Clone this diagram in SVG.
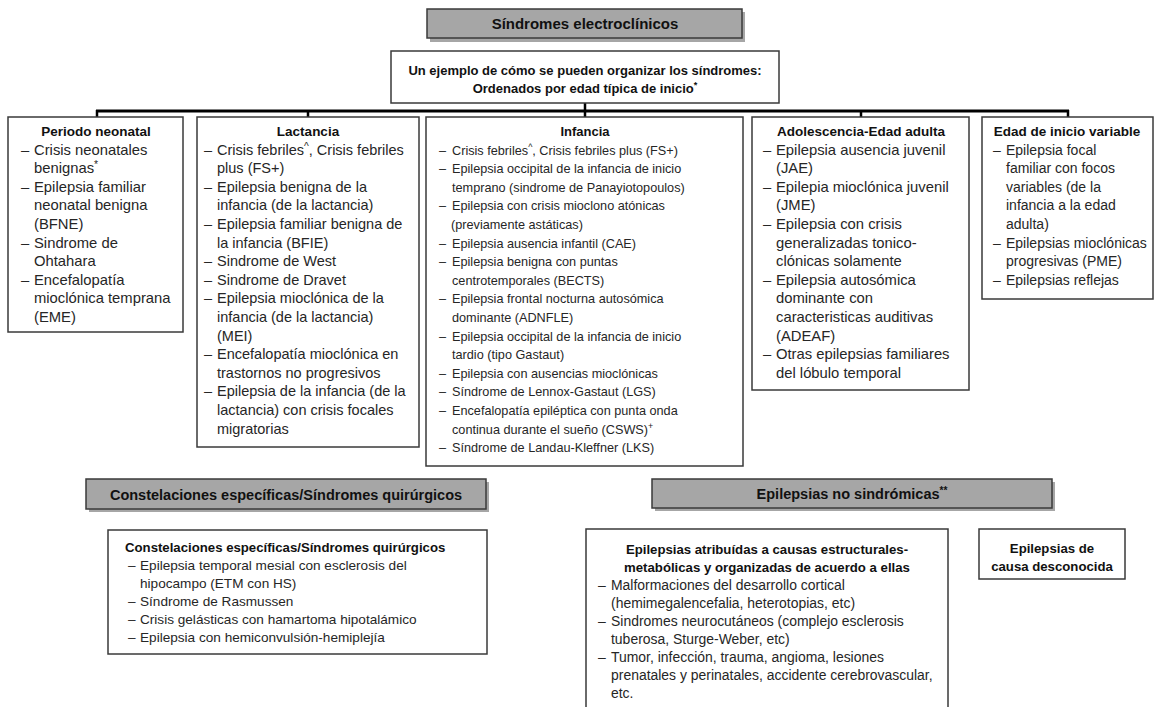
<svg xmlns="http://www.w3.org/2000/svg" width="1160" height="707" viewBox="0 0 1160 707">
<style>
.bg{fill:#ffffff}
.box{fill:#ffffff;stroke:#3a3a3a;stroke-width:1.5}
.gray{fill:#a6a6a6;stroke:#3a3a3a;stroke-width:1.5}
.shadow{fill:#6b6b6b;opacity:0.6}
.t{font-family:"Liberation Sans",Arial,sans-serif;fill:#262626}
.h{font-family:"Liberation Sans",Arial,sans-serif;font-weight:bold;fill:#111111}
.c{text-anchor:middle}
.conn{stroke:#000000;stroke-width:3;fill:none}
.tick{stroke:#000000;stroke-width:2.5;fill:none}
.sup{font-size:70%}
</style>
<rect class="bg" x="0" y="0" width="1160" height="707"/>

<g id="connectors">
<line class="conn" x1="96" y1="111" x2="1069" y2="111"/>
<line class="tick" x1="585" y1="103" x2="585" y2="111"/>
<line class="tick" x1="97" y1="110" x2="97" y2="117"/>
<line class="tick" x1="308" y1="110" x2="308" y2="117"/>
<line class="tick" x1="585" y1="110" x2="585" y2="117"/>
<line class="tick" x1="861" y1="110" x2="861" y2="117"/>
<line class="tick" x1="1068" y1="110" x2="1068" y2="117"/>
</g>

<g id="title">
<rect class="shadow" x="430" y="12" width="315" height="30"/>
<rect class="gray" x="427" y="9" width="315" height="29"/>
<text class="h c" x="585" y="29" font-size="15">Síndromes electroclínicos</text>
</g>

<g id="subtitle">
<rect class="box" x="391" y="51" width="388" height="52"/>
<text class="h c" x="585" y="75" font-size="13">Un ejemplo de cómo se pueden organizar los síndromes:</text>
<text class="h c" x="585" y="93" font-size="13">Ordenados por edad típica de inicio<tspan class="sup" dy="-5">*</tspan></text>
</g>

<g id="neonatal">
<rect class="box" x="8" y="117" width="175" height="215"/>
<text class="h c" x="96" y="136" font-size="13.5">Periodo neonatal</text>
<g class="t" font-size="14.8">
<text x="21" y="154.6">–</text><text x="34" y="154.6">Crisis neonatales</text>
<text x="34" y="173.2">benignas<tspan class="sup" dy="-5">*</tspan></text>
<text x="21" y="191.8">–</text><text x="34" y="191.8">Epilepsia familiar</text>
<text x="34" y="210.4">neonatal benigna</text>
<text x="34" y="229">(BFNE)</text>
<text x="21" y="247.6">–</text><text x="34" y="247.6">Sindrome de</text>
<text x="34" y="266.2">Ohtahara</text>
<text x="21" y="284.8">–</text><text x="34" y="284.8">Encefalopatía</text>
<text x="34" y="303.4">mioclónica temprana</text>
<text x="34" y="322">(EME)</text>
</g>
</g>

<g id="lactancia">
<rect class="box" x="197" y="117" width="222" height="330"/>
<text class="h c" x="308" y="136" font-size="13.5">Lactancia</text>
<g class="t" font-size="14.5">
<text x="204" y="154.6">–</text><text x="217" y="154.6">Crisis febriles<tspan class="sup" dy="-5">^</tspan><tspan dy="5">, Crisis febriles</tspan></text>
<text x="217" y="173.2">plus (FS+)</text>
<text x="204" y="191.8">–</text><text x="217" y="191.8">Epilepsia benigna de la</text>
<text x="217" y="210.4">infancia (de la lactancia)</text>
<text x="204" y="229">–</text><text x="217" y="229">Epilepsia familiar benigna de</text>
<text x="217" y="247.6">la infancia (BFIE)</text>
<text x="204" y="266.2">–</text><text x="217" y="266.2">Sindrome de West</text>
<text x="204" y="284.8">–</text><text x="217" y="284.8">Sindrome de Dravet</text>
<text x="204" y="303.4">–</text><text x="217" y="303.4">Epilepsia mioclónica de la</text>
<text x="217" y="322">infancia (de la lactancia)</text>
<text x="217" y="340.6">(MEI)</text>
<text x="204" y="359.2">–</text><text x="217" y="359.2">Encefalopatía mioclónica en</text>
<text x="217" y="377.8">trastornos no progresivos</text>
<text x="204" y="396.4">–</text><text x="217" y="396.4">Epilepsia de la infancia (de la</text>
<text x="217" y="415">lactancia) con crisis focales</text>
<text x="217" y="433.6">migratorias</text>
</g>
</g>

<g id="infancia">
<rect class="box" x="426" y="117" width="317" height="349"/>
<text class="h c" x="585" y="136" font-size="13">Infancia</text>
<g class="t" font-size="12.7">
<text x="439" y="154.6">–</text><text x="452" y="154.6">Crisis febriles<tspan class="sup" dy="-5">^</tspan><tspan dy="5">, Crisis febriles plus (FS+)</tspan></text>
<text x="439" y="173.2">–</text><text x="452" y="173.2">Epilepsia occipital de la infancia de inicio</text>
<text x="452" y="191.8">temprano (sindrome de Panayiotopoulos)</text>
<text x="439" y="210.4">–</text><text x="452" y="210.4">Epilepsia con crisis mioclono atónicas</text>
<text x="451" y="229">(previamente astáticas)</text>
<text x="439" y="247.6">–</text><text x="452" y="247.6">Epilepsia ausencia infantil (CAE)</text>
<text x="439" y="266.2">–</text><text x="452" y="266.2">Epilepsia benigna con puntas</text>
<text x="452" y="284.8">centrotemporales (BECTS)</text>
<text x="439" y="303.4">–</text><text x="452" y="303.4">Epilepsia frontal nocturna autosómica</text>
<text x="452" y="322">dominante (ADNFLE)</text>
<text x="439" y="340.6">–</text><text x="452" y="340.6">Epilepsia occipital de la infancia de inicio</text>
<text x="452" y="359.2">tardio (tipo Gastaut)</text>
<text x="439" y="377.8">–</text><text x="452" y="377.8">Epilepsia con ausencias mioclónicas</text>
<text x="439" y="396.4">–</text><text x="452" y="396.4">Síndrome de Lennox-Gastaut (LGS)</text>
<text x="439" y="415">–</text><text x="452" y="415">Encefalopatía epiléptica con punta onda</text>
<text x="452" y="433.6">continua durante el sueño (CSWS)<tspan class="sup" dy="-5">+</tspan></text>
<text x="439" y="452.2">–</text><text x="452" y="452.2">Síndrome de Landau-Kleffner (LKS)</text>
</g>
</g>

<g id="adolescencia">
<rect class="box" x="752" y="117" width="217" height="273"/>
<text class="h c" x="861" y="136" font-size="13.5">Adolescencia-Edad adulta</text>
<g class="t" font-size="14.8">
<text x="763" y="154.6">–</text><text x="776" y="154.6">Epilepsia ausencia juvenil</text>
<text x="776" y="173.2">(JAE)</text>
<text x="763" y="191.8">–</text><text x="776" y="191.8">Epilepia mioclónica juvenil</text>
<text x="776" y="210.4">(JME)</text>
<text x="763" y="229">–</text><text x="776" y="229">Epilepsia con crisis</text>
<text x="776" y="247.6">generalizadas tonico-</text>
<text x="776" y="266.2">clónicas solamente</text>
<text x="763" y="284.8">–</text><text x="776" y="284.8">Epilepsia autosómica</text>
<text x="776" y="303.4">dominante con</text>
<text x="776" y="322">caracteristicas auditivas</text>
<text x="776" y="340.6">(ADEAF)</text>
<text x="763" y="359.2">–</text><text x="776" y="359.2">Otras epilepsias familiares</text>
<text x="776" y="377.8">del lóbulo temporal</text>
</g>
</g>

<g id="variable">
<rect class="box" x="982" y="117" width="171" height="182"/>
<text class="h c" x="1067" y="136" font-size="13.5">Edad de inicio variable</text>
<g class="t" font-size="14">
<text x="993" y="154.6">–</text><text x="1006" y="154.6">Epilepsia focal</text>
<text x="1006" y="173.2">familiar con focos</text>
<text x="1006" y="191.8">variables (de la</text>
<text x="1006" y="210.4">infancia a la edad</text>
<text x="1006" y="229">adulta)</text>
<text x="993" y="247.6">–</text><text x="1006" y="247.6">Epilepsias mioclónicas</text>
<text x="1006" y="266.2">progresivas (PME)</text>
<text x="993" y="284.8">–</text><text x="1006" y="284.8">Epilepsias reflejas</text>
</g>
</g>

<g id="constelaciones-header">
<rect class="shadow" x="89" y="482" width="400" height="30"/>
<rect class="gray" x="86" y="479" width="400" height="30"/>
<text class="h c" x="286" y="499.5" font-size="14.5">Constelaciones específicas/Síndromes quirúrgicos</text>
</g>

<g id="constelaciones">
<rect class="box" x="108" y="530" width="379" height="124"/>
<text class="h" x="125" y="552" font-size="13.2">Constelaciones específicas/Síndromes quirúrgicos</text>
<g class="t" font-size="13.6">
<text x="128" y="570">–</text><text x="140" y="570">Epilepsia temporal mesial con esclerosis del</text>
<text x="140" y="588">hipocampo (ETM con HS)</text>
<text x="128" y="606">–</text><text x="140" y="606">Síndrome de Rasmussen</text>
<text x="128" y="624">–</text><text x="140" y="624">Crisis gelásticas con hamartoma hipotalámico</text>
<text x="128" y="642">–</text><text x="140" y="642">Epilepsia con hemiconvulsión-hemiplejía</text>
</g>
</g>

<g id="no-sindromicas-header">
<rect class="shadow" x="655" y="482" width="400" height="29"/>
<rect class="gray" x="652" y="479" width="400" height="29"/>
<text class="h c" x="852" y="499" font-size="14.5">Epilepsias no sindrómicas<tspan class="sup" dy="-5">**</tspan></text>
</g>

<g id="estructurales">
<rect class="box" x="586" y="529" width="362" height="190"/>
<text class="h c" x="767" y="554" font-size="13.2">Epilepsias atribuídas a causas estructurales-</text>
<text class="h c" x="767" y="572" font-size="13.2">metabólicas y organizadas de acuerdo a ellas</text>
<g class="t" font-size="13.95">
<text x="598" y="590">–</text><text x="611" y="590">Malformaciones del desarrollo cortical</text>
<text x="611" y="608">(hemimegalencefalia, heterotopias, etc)</text>
<text x="598" y="626">–</text><text x="611" y="626">Sindromes neurocutáneos (complejo esclerosis</text>
<text x="611" y="644">tuberosa, Sturge-Weber, etc)</text>
<text x="598" y="662">–</text><text x="611" y="662">Tumor, infección, trauma, angioma, lesiones</text>
<text x="611" y="680">prenatales y perinatales, accidente cerebrovascular,</text>
<text x="611" y="698">etc.</text>
</g>
</g>

<g id="desconocida">
<rect class="box" x="979" y="529" width="146" height="50"/>
<text class="h c" x="1052" y="553" font-size="13.2">Epilepsias de</text>
<text class="h c" x="1052" y="571" font-size="13.2">causa desconocida</text>
</g>
</svg>
